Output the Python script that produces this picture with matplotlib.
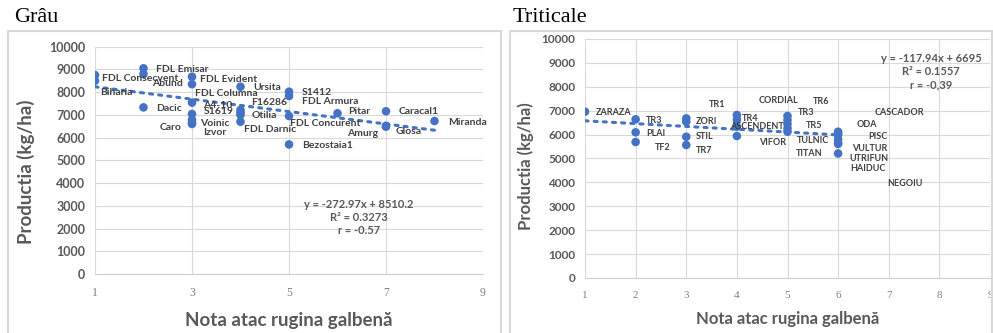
import matplotlib.pyplot as plt
from matplotlib.patches import Rectangle
import numpy as np

# Grau: nota atac rugina galbena vs productia (kg/ha)
grau_nota = [1, 1, 2, 2, 2, 3, 3, 3, 3, 3, 3, 3, 4, 4, 4, 4, 4, 5, 5, 5, 5, 6, 7, 7, 7, 8]
grau_productie = [8750, 8500, 9050, 8800, 7330, 8680, 8350, 7540, 7040, 6780, 6650, 6600,
                  8240, 7215, 7100, 7000, 6700, 8020, 7830, 6950, 5700, 7070, 7160, 6520,
                  6480, 6730]
grau_soi = ['FDL Consecvent', 'Biharia', 'FDL Emisar', '', 'Dacic', 'FDL Evident', 'Abund',
            'FDL Columna', 'S1619', 'Voinic', 'Caro', 'Izvor', 'Ursita', 'F16286', 'A4-10',
            'Otilia', 'FDL Darnic', 'S1412', 'FDL Armura', 'FDL Concurent', 'Bezostaia1',
            'Pitar', 'Caracal1', 'Glosa', 'Amurg', 'Miranda']
grau_panta, grau_interceptie = -272.97, 8510.2
grau_r2, grau_r = '0.3273', '-0.57'

# Triticale
tri_nota = [1, 2, 2, 2, 3, 3, 3, 3, 4, 4, 4, 4, 5, 5, 5, 5, 5, 6, 6, 6, 6, 6, 6, 6]
tri_productie = [6960, 6640, 6095, 5690, 6680, 6540, 5910, 5565, 6820, 6620, 6330, 5940,
                 6780, 6610, 6440, 6260, 6120, 6120, 6050, 5980, 5800, 5650, 5610, 5210]
tri_soi = ['ZARAZA', 'TR3', 'PLAI', 'TF2', 'TR1', 'ZORI', 'STIL', 'TR7', 'TR4', 'ASCENDENT',
           'CORDIAL', 'VIFOR', 'TR6', 'TR3', 'TR5', 'TULNIC', 'TITAN', 'CASCADOR', 'ODA',
           'PISC', 'VULTUR', 'UTRIFUN', 'HAIDUC', 'NEGOIU']
tri_panta, tri_interceptie = -117.94, 6695
tri_r2, tri_r = '0.1557', '-0,39'

# deplasarea etichetelor fata de punct (pixeli) si alinierea
grau_etich = [(7, -3, 'left'), (5, -12, 'left'), (13, -1, 'left'), (0, 0, 'left'),
              (13, -1, 'left'), (8, -3, 'left'), (-9, 1, 'right'), (3, 9, 'left'),
              (12, 2, 'left'), (8, -4, 'left'), (-10, -5, 'right'), (11, -9, 'left'),
              (13, -1, 'left'), (11, 8, 'left'), (-8, 7, 'right'), (11, -1, 'left'),
              (4, -8, 'left'), (13, -1, 'left'), (13, -5, 'left'), (1, -7, 'left'),
              (13, -1, 'left'), (11, 2, 'left'), (13, 0, 'left'), (10, -6, 'left'),
              (-8, -7, 'right'), (14, -1, 'left')]
tri_etich = [(11, -1, 'left'), (10, -1, 'left'), (11, -1, 'left'), (19, -5, 'left'),
             (23, 14, 'left'), (10, 0, 'left'), (10, 0, 'left'), (10, -6, 'left'),
             (5, -3, 'left'), (-7, -7, 'left'), (42, 26, 'center'), (22, -6, 'left'),
             (25, 14, 'left'), (10, 8, 'left'), (18, -1, 'left'), (9, -12, 'left'),
             (8, -22, 'left'), (37, 19, 'left'), (19, 9, 'left'), (30, -1, 'left'),
             (14, -9, 'left'), (11, -16, 'left'), (12, -25, 'left'), (49, -30, 'left')]

albastru = '#4472C4'
gri = '#595959'
W, H = 993, 333

fig = plt.figure(figsize=(W / 100, H / 100), dpi=100)

# chenarele celor doua grafice
for x0, x1 in [(8, 501), (510, 992)]:
    fig.add_artist(Rectangle((x0 / W, -0.01), (x1 - x0) / W, 1 - 31 / H + 0.01,
                             transform=fig.transFigure, fill=False,
                             ec='#d9d9d9', lw=1.5))

fig.text(14 / W, 1 - 18 / H, 'Grâu', family='Liberation Serif', size=16, va='center')
fig.text(513 / W, 1 - 18 / H, 'Triticale', family='Liberation Serif', size=16, va='center')


def grafic(ax, nota, prod, soi, etich, panta, inter, r2, r, xpas, xmax_trend,
           ec_xy, fs_tick, fs_lab, fs_xlab, ylab_xy, xlab_y):
    ax.set_xlim(1, 9)
    ax.set_ylim(0, 10000)
    ax.set_xticks(np.arange(1, 10, xpas))
    ax.set_yticks(np.arange(0, 10001, 1000))
    ax.grid(True, color='#d9d9d9', lw=0.8)
    ax.set_axisbelow(True)
    for s in ['top', 'right', 'left']:
        ax.spines[s].set_visible(False)
    ax.spines['bottom'].set_color('#d0d0d0')
    ax.tick_params(length=0, colors=gri)
    for t in ax.get_yticklabels():
        t.set_fontfamily('Lato')
        t.set_fontsize(fs_tick)
        t.set_fontweight('bold')
    for t in ax.get_xticklabels():
        t.set_fontfamily('Liberation Serif')
        t.set_fontsize(fs_tick - 0.5)
        t.set_color('#7f7f7f')
    ax.tick_params(axis='x', pad=9)
    ax.tick_params(axis='y', pad=7)

    # linia de tendinta
    xt = np.array([1, xmax_trend])
    ax.plot(xt, panta * xt + inter, ls=(0, (1, 2)), lw=2.2, color=albastru,
            dash_capstyle='round', zorder=2)

    ax.scatter(nota, prod, s=38, color=albastru, zorder=3, edgecolors='none')
    for x, y, nume, (dx, dy, ha) in zip(nota, prod, soi, etich):
        if nume:
            ax.annotate(nume, (x, y), xytext=(dx, dy), textcoords='offset pixels',
                        ha=ha, va='center', fontsize=fs_lab, fontweight='bold',
                        family='Lato', color='#404040', zorder=4)

    semn = '-' if inter < 0 else '+'
    ec = (f'y = {panta}x {semn} {abs(inter):g}\n'
          f'R² = {r2}\nr = {r}')
    ax.text(ec_xy[0], ec_xy[1], ec, transform=ax.transAxes, ha='center', va='top',
            fontsize=8, family='Lato', fontweight='bold', color=gri, linespacing=1.2)

    ax.set_ylabel('Productia (kg/ha)', family='Lato', fontweight='bold',
                  fontsize=fs_xlab, color=gri)
    ax.yaxis.set_label_coords(*ylab_xy)
    ax.set_xlabel('Nota atac rugina galbenă', family='Lato', fontweight='bold',
                  fontsize=fs_xlab, color=gri)
    ax.xaxis.set_label_coords(0.5, xlab_y)


ax1 = fig.add_axes([95 / W, 1 - 274 / H, 388 / W, 227.3 / H])
grafic(ax1, grau_nota, grau_productie, grau_soi, grau_etich, grau_panta,
       grau_interceptie, grau_r2, grau_r, 2, 8, (0.68, 0.33),
       9, 7.5, 13.5, (-0.155, 0.45), -0.165)

ax2 = fig.add_axes([585 / W, 1 - 278 / H, 405 / W, 239 / H])
grafic(ax2, tri_nota, tri_productie, tri_soi, tri_etich, tri_panta,
       tri_interceptie, tri_r2, tri_r, 1, 6, (0.855, 0.94),
       8.5, 6.5, 12, (-0.125, 0.47), -0.14)

fig.savefig('out.png', dpi=100)
